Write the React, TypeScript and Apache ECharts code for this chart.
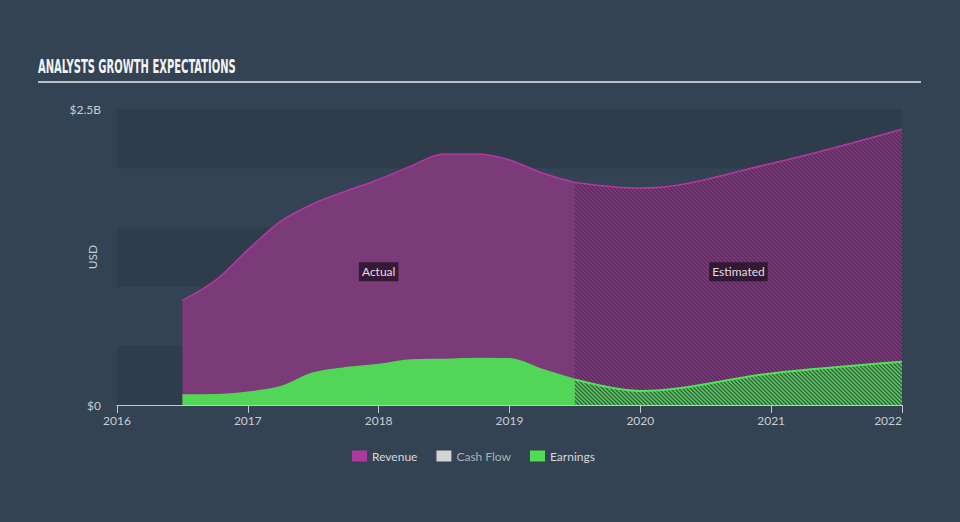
import React, { useEffect, useRef } from 'react';
import * as echarts from 'echarts';

// ---- data (values in billions USD, x in decimal years) ----
const actualYears = [2016.5, 2016.75, 2017.0, 2017.25, 2017.5, 2017.75, 2018.0, 2018.25, 2018.5, 2018.75, 2019.0, 2019.25, 2019.5];
const revenueActual = [0.884, 1.05, 1.31, 1.55, 1.70, 1.806, 1.905, 2.02, 2.12, 2.12, 2.07, 1.96, 1.88];
const earningsActual = [0.084, 0.086, 0.108, 0.154, 0.27, 0.315, 0.342, 0.38, 0.385, 0.393, 0.39, 0.30, 0.215];

const estimatedYears = [2019.5, 2020.0, 2021.0, 2022.0];
const revenueEstimated = [1.88, 1.832, 2.04, 2.329];
const earningsEstimated = [0.215, 0.118, 0.267, 0.365];

const xTicks = [2016, 2017, 2018, 2019, 2020, 2021, 2022];
const yTickLabels: Record<string, string> = { '0': '$0', '2.5': '$2.5B' };
const legendNames = ['Revenue', 'Cash Flow', 'Earnings'];
const regionLabels = [
  { text: 'Actual', x: 2018.0, y: 1.125 },
  { text: 'Estimated', x: 2020.75, y: 1.125 },
];

const BG = '#334353';
const BAND_DARK = '#2f3c4b';
const REV_FILL = '#7b3a78';
const REV_LINE = '#b3399f';
const EARN_FILL = '#51d657';
const EARN_LINE = '#55e05a';
const FONT = 'Lato, "Open Sans", "Noto Sans", sans-serif';

function hatch(bg: string, fg: string) {
  const svg = `<svg xmlns='http://www.w3.org/2000/svg' width='4' height='4'><rect width='4' height='4' fill='${bg}'/><path d='M-1,-1L5,5M3,-1L5,1M-1,3L1,5' stroke='${fg}' stroke-width='1.5'/></svg>`;
  return {
    image: 'data:image/svg+xml;charset=utf-8,' + encodeURIComponent(svg),
    repeat: 'repeat',
    imageWidth: 4,
    imageHeight: 4,
  } as any;
}

function zip(xs: number[], ys: number[]) {
  return xs.map((x, i) => [x, ys[i]]);
}

export default function App() {
  const ref = useRef<HTMLDivElement>(null);

  useEffect(() => {
    if (!ref.current) return;
    const chart = echarts.init(ref.current, undefined, { renderer: 'svg' });

    const titleText = 'ANALYSTS GROWTH EXPECTATIONS';
    const titleFont = 'bold 19px "Liberation Sans Narrow", "DejaVu Sans Condensed", sans-serif';
    let scaleX = 1;
    try {
      const c = document.createElement('canvas').getContext('2d')!;
      c.font = titleFont;
      const w = c.measureText(titleText).width;
      if (w > 0) scaleX = 198 / w;
    } catch (e) {}

    const smoothLine = { smooth: 0.35, showSymbol: false, symbol: 'none' };

    const option: any = {
      animation: false,
      backgroundColor: BG,
      textStyle: { fontFamily: FONT },
      graphic: [
        {
          type: 'text',
          left: 38,
          top: 57,
          scaleX,
          style: { text: titleText, font: titleFont, fill: '#f2f2f2' },
        },
        {
          type: 'line',
          shape: { x1: 38, y1: 82, x2: 921, y2: 82 },
          style: { stroke: '#b9bec4', lineWidth: 2 },
        },
        {
          type: 'text',
          x: 92,
          y: 257,
          rotation: Math.PI / 2,
          style: {
            text: 'USD',
            fill: '#c9cdd2',
            font: '12px ' + FONT,
            textAlign: 'center',
            textVerticalAlign: 'middle',
          },
        },
      ],
      grid: { left: 117, right: 58, top: 109, bottom: 117 },
      legend: {
        left: 352,
        top: 450,
        padding: 0,
        itemWidth: 15,
        itemHeight: 11,
        itemGap: 19,
        icon: 'rect',
        textStyle: { color: '#d6d8da', fontSize: 12, fontFamily: FONT },
        data: [
          { name: legendNames[0], itemStyle: { color: '#b0399d' } },
          { name: legendNames[1], itemStyle: { color: '#d3d3d3' }, textStyle: { color: '#aab0b6' } },
          { name: legendNames[2], itemStyle: { color: '#4fdc52' } },
        ],
        selectedMode: false,
      },
      xAxis: {
        type: 'value',
        min: xTicks[0],
        max: xTicks[xTicks.length - 1],
        interval: 1,
        axisLine: { show: true, lineStyle: { color: '#c3c8ce', width: 1 } },
        axisTick: { show: true, length: 8, lineStyle: { color: '#c3c8ce' } },
        axisLabel: {
          color: '#c9cdd2',
          fontSize: 12,
          margin: 9,
          alignMaxLabel: 'right',
          formatter: (v: number) => String(Math.round(v)),
        },
        splitLine: { show: false },
      },
      yAxis: {
        type: 'value',
        min: 0,
        max: 2.5,
        interval: 0.5,
        axisLine: { show: false },
        axisTick: { show: false },
        axisLabel: {
          color: '#c9cdd2',
          fontSize: 12,
          margin: 16,
          formatter: (v: number) => yTickLabels[String(v)] ?? '',
        },
        splitLine: { show: false },
        splitArea: { show: true, areaStyle: { color: [BAND_DARK, BG] } },
      },
      series: [
        {
          name: 'Revenue',
          type: 'line',
          data: zip(actualYears, revenueActual),
          ...smoothLine,
          lineStyle: { color: REV_LINE, width: 1.5 },
          itemStyle: { color: REV_LINE },
          areaStyle: { color: REV_FILL, opacity: 1 },
          z: 2,
          markPoint: {
            symbol: 'rect',
            symbolSize: 1,
            itemStyle: { color: 'rgba(0,0,0,0)' },
            label: {
              show: true,
              position: 'inside',
              color: '#e4dce4',
              fontSize: 12,
              fontFamily: FONT,
              backgroundColor: 'rgba(35,18,35,0.78)',
              padding: [4, 3, 3, 3],
              formatter: (p: any) => p.name,
            },
            data: regionLabels.map((r) => ({ name: r.text, coord: [r.x, r.y] })),
          },
        },
        {
          name: 'Revenue est',
          type: 'line',
          data: zip(estimatedYears, revenueEstimated),
          ...smoothLine,
          lineStyle: { color: REV_LINE, width: 1.5 },
          itemStyle: { color: REV_LINE },
          areaStyle: { color: hatch('#55295a', '#803c7d'), opacity: 1 },
          z: 2,
        },
        {
          name: 'Cash Flow',
          type: 'line',
          data: [],
          itemStyle: { color: '#d3d3d3' },
        },
        {
          name: 'Earnings',
          type: 'line',
          data: zip(actualYears, earningsActual),
          ...smoothLine,
          lineStyle: { color: EARN_FILL, width: 1.5 },
          itemStyle: { color: EARN_FILL },
          areaStyle: { color: EARN_FILL, opacity: 1 },
          z: 3,
        },
        {
          name: 'Earnings est',
          type: 'line',
          data: zip(estimatedYears, earningsEstimated),
          ...smoothLine,
          lineStyle: { color: EARN_LINE, width: 2 },
          itemStyle: { color: EARN_LINE },
          areaStyle: { color: hatch('#3a5a45', '#52d258'), opacity: 1 },
          z: 3,
        },
      ],
    };
    chart.setOption(option);
    return () => chart.dispose();
  }, []);

  return (
    <div
      ref={ref}
      style={{ position: 'fixed', left: 0, top: 0, width: 960, height: 522 }}
    />
  );
}
